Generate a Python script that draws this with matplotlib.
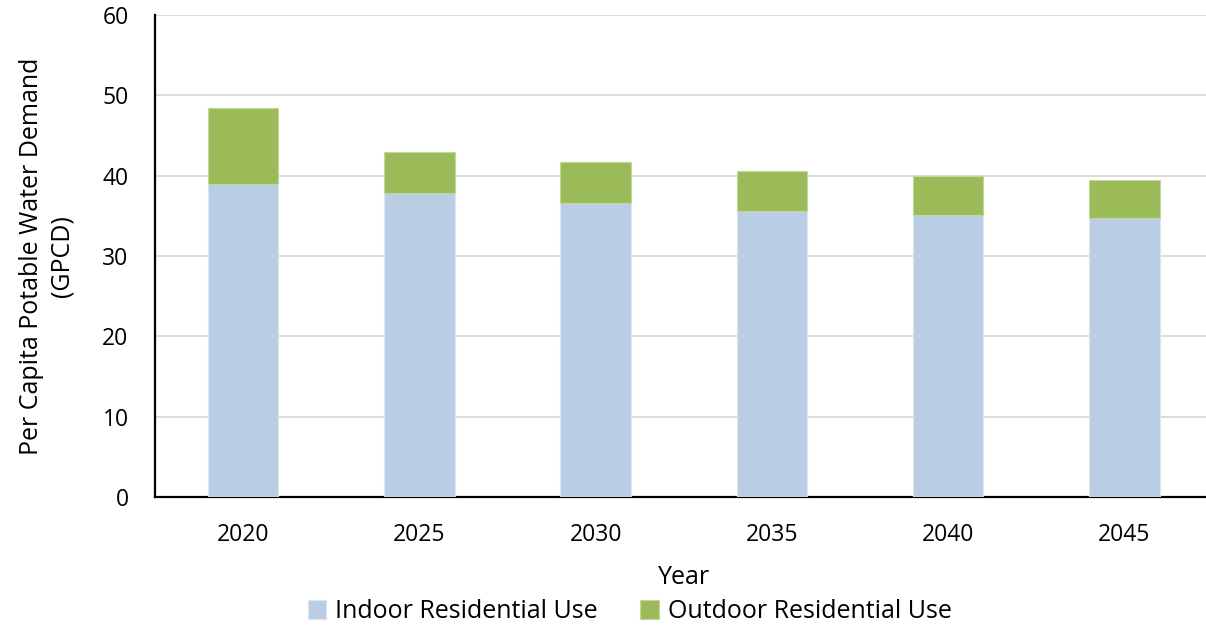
import numpy as np
import matplotlib.pyplot as plt

years = ['2020', '2025', '2030', '2035', '2040', '2045']
indoor = [39.0, 37.8, 36.6, 35.6, 35.1, 34.7]
outdoor = [9.4, 5.2, 5.05, 5.0, 4.9, 4.8]

plt.rcParams['font.family'] = ['Open Sans', 'DejaVu Sans']

fig = plt.figure(figsize=(12.06, 6.28), dpi=100)
# plot area runs a little past the right edge of the figure, like the original
ax = fig.add_axes([0.1285, 0.2086, 0.877, 0.7674])

x = np.arange(len(years))
ax.bar(x, indoor, width=0.4, color='#B9CDE5', edgecolor='#DCE6F2', linewidth=0.8,
       label='Indoor Residential Use', zorder=3)
ax.bar(x, outdoor, width=0.4, bottom=indoor, color='#9BBB59', edgecolor='#C3D69B',
       linewidth=0.8, label='Outdoor Residential Use', zorder=3)

ax.set_xlim(-0.5, len(years) - 0.5)
ax.set_ylim(0, 60)
ax.set_yticks(range(0, 61, 10))
ax.set_xticks(x)
ax.set_xticklabels(years)
ax.tick_params(axis='both', length=0, labelsize=16.5)
ax.tick_params(axis='y', pad=19)
ax.tick_params(axis='x', pad=19)
ax.yaxis.grid(True, color='#D9D9D9', linewidth=1.3, zorder=0)
ax.set_axisbelow(True)

for side in ['top', 'right']:
    ax.spines[side].set_visible(False)
ax.spines['left'].set_linewidth(1.6)
ax.spines['bottom'].set_linewidth(1.6)

ax.set_xlabel('Year', fontsize=18, labelpad=13)
ax.set_ylabel('Per Capita Potable Water Demand\n(GPCD)', fontsize=18, labelpad=20,
              linespacing=1.3)

fig.legend(loc='lower center', bbox_to_anchor=(0.522, -0.03), ncol=2, frameon=False,
           fontsize=18, handlelength=0.75, handleheight=0.75, columnspacing=1.7,
           handletextpad=0.35)

fig.savefig('out.png', dpi=100)
